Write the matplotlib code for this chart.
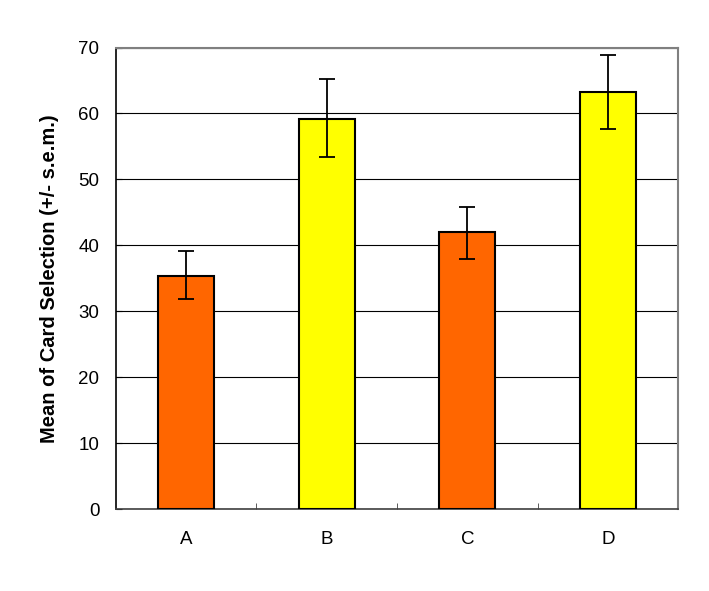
import numpy as np
import matplotlib
matplotlib.use("Agg")
import matplotlib.pyplot as plt

# Values
groups = ["A", "B", "C", "D"]
means = [35.3, 59.1, 42.0, 63.2]
sem_low = [3.4, 5.7, 4.1, 5.6]
sem_high = [3.8, 6.1, 3.8, 5.7]
colors = ["#FF6600", "#FFFF00", "#FF6600", "#FFFF00"]

plt.rcParams["font.family"] = ["Liberation Sans", "DejaVu Sans"]

fig = plt.figure(figsize=(7.09, 5.91), dpi=100)
ax = fig.add_axes([0.1636, 0.1387, 0.7927, 0.7809])

x = np.arange(len(groups))
ax.bar(x, means, width=0.40, color=colors, edgecolor="black",
       linewidth=1.5, zorder=3)
ax.errorbar(x, means, yerr=[sem_low, sem_high], fmt="none", ecolor="black",
            elinewidth=1.3, capsize=5.5, capthick=1.3, zorder=4)

ax.set_xlim(-0.5, 3.5)
ax.set_ylim(0, 70)
ax.set_yticks(range(0, 71, 10))
ax.yaxis.grid(True, color="black", linewidth=0.8, zorder=0)
ax.set_axisbelow(True)

# category labels at centres, short ticks at the boundaries
ax.set_xticks(x)
ax.set_xticklabels(groups)
ax.set_xticks([0.5, 1.5, 2.5], minor=True)
ax.tick_params(axis="x", which="major", length=0, pad=16, labelsize=13.5)
ax.tick_params(axis="x", which="minor", direction="in", length=4,
               color="#404040")
ax.tick_params(axis="y", direction="in", length=4, labelsize=13.5, pad=12)

for side in ["top", "right"]:
    ax.spines[side].set_color("#808080")
    ax.spines[side].set_linewidth(1.5)
ax.spines["bottom"].set_color("#404040")
ax.spines["bottom"].set_linewidth(1.2)
ax.spines["left"].set_color("black")
ax.spines["left"].set_linewidth(1.2)

ax.set_ylabel("Mean of Card Selection (+/- s.e.m.)", fontsize=14.5,
              fontweight="bold", va="center")
ax.yaxis.set_label_coords(-0.1175, 0.5)

fig.savefig("out.png", dpi=100)
